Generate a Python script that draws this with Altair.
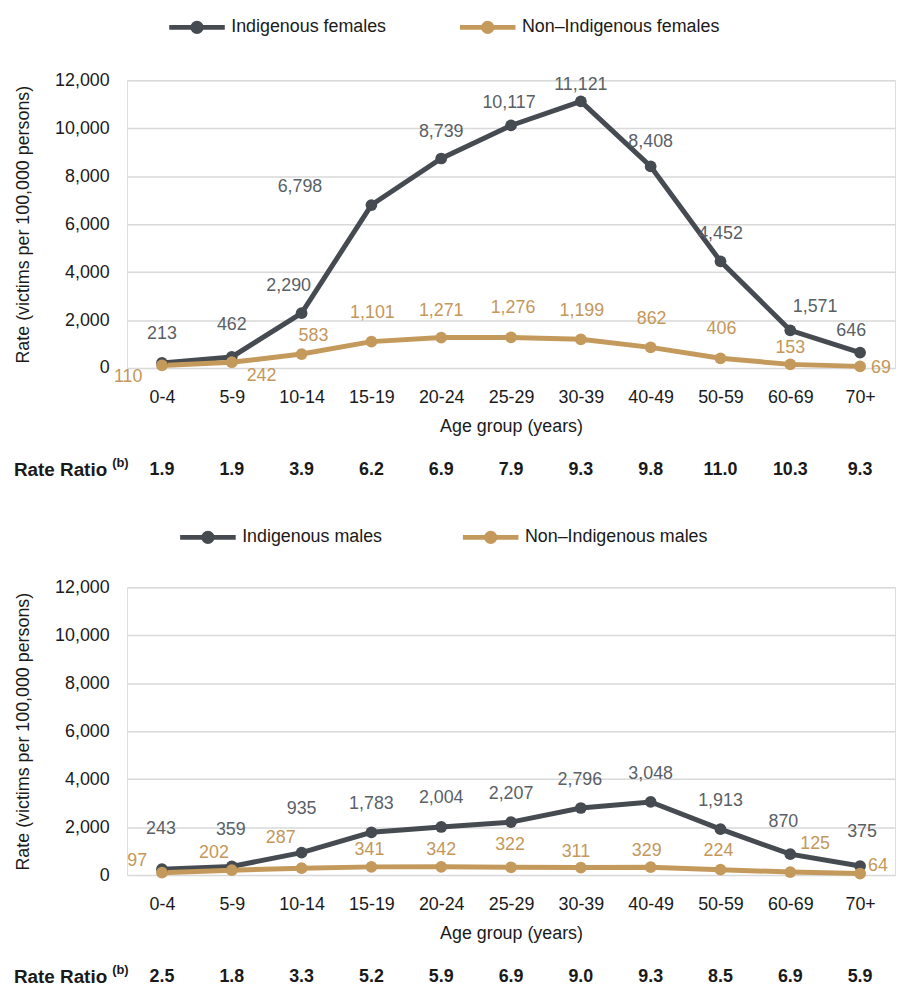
import altair as alt
import pandas as pd

# ---------------- data ----------------
categories = ["0-4", "5-9", "10-14", "15-19", "20-24", "25-29", "30-39", "40-49", "50-59", "60-69", "70+"]

ind_female = [213, 462, 2290, 6798, 8739, 10117, 11121, 8408, 4452, 1571, 646]
non_female = [110, 242, 583, 1101, 1271, 1276, 1199, 862, 406, 153, 69]
ratio_female = ["1.9", "1.9", "3.9", "6.2", "6.9", "7.9", "9.3", "9.8", "11.0", "10.3", "9.3"]

ind_male = [243, 359, 935, 1783, 2004, 2207, 2796, 3048, 1913, 870, 375]
non_male = [97, 202, 287, 341, 342, 322, 311, 329, 224, 125, 64]
ratio_male = ["2.5", "1.8", "3.3", "5.2", "5.9", "6.9", "9.0", "9.3", "8.5", "6.9", "5.9"]

series_female = ["Indigenous females", "Non\u2013Indigenous females"]
series_male = ["Indigenous males", "Non\u2013Indigenous males"]

# ---------------- label placement (pixel offsets, style only) ----------------
off_ind_female = [(0, -29), (0, -32), (-13, -27), (-72, -18), (0, -27), (-2, -23), (0, -16),
                  (0, -25), (0, -27), (25, -24), (-9, -22)]
off_non_female = [(-34, 12), (30, 14), (12, -18), (1, -29), (0, -27), (2, -30), (1, -28),
                  (1, -29), (1, -29), (0, -16), (21, 2)]
off_ind_male = [(-1, -40), (-1, -37), (0, -44), (0, -28), (0, -29), (0, -28), (-1, -28),
                (0, -28), (0, -28), (-7, -32), (2, -34)]
off_non_male = [(-25, -12), (-18, -17), (-21, -30), (-2, -17), (0, -17), (-1, -22), (-5, -16),
                (-4, -16), (-2, -19), (25, -28), (18, -8)]

FONT = "Liberation Sans"
DARK = "#464b52"
TAN = "#c49a5c"
DARK_LBL = "#5a5f66"
TAN_LBL = "#c4975a"
TXT = "#1a1a1a"

W, H = 774, 290
RATIO_Y = 393

# line with a dot, drawn in symbol units (1 unit = 7 px for size 196)
LEGEND_SYMBOL = "M-4,0H4M-0.6,0a0.6,0.6 0 1,0 1.2,0a0.6,0.6 0 1,0 -1.2,0"


def build_df(ind, non, names, off_i, off_n):
    rows = []
    for c, v, (dx, dy) in zip(categories, ind, off_i):
        rows.append(dict(cat=c, series=names[0], value=v, label=f"{v:,}", dx=dx, dy=dy))
    for c, v, (dx, dy) in zip(categories, non, off_n):
        rows.append(dict(cat=c, series=names[1], value=v, label=f"{v:,}", dx=dx, dy=dy))
    return pd.DataFrame(rows)


def panel(ind, non, ratios, names, off_i, off_n, leg_x, leg_y, col_pad):
    df = build_df(ind, non, names, off_i, off_n)
    x = alt.X("cat:N", sort=categories, scale=alt.Scale(padding=0.5),
              axis=alt.Axis(title="Age group (years)", labelAngle=0, ticks=False, domain=False,
                            labelPadding=21, titlePadding=11, labelFontSize=18, titleFontSize=18,
                            titleFontWeight="normal", labelColor=TXT, titleColor=TXT,
                            labelFont=FONT, titleFont=FONT))
    y = alt.Y("value:Q", scale=alt.Scale(domain=[0, 12000]),
              axis=alt.Axis(title="Rate (victims per 100,000 persons)",
                            values=list(range(0, 12001, 2000)), format=",.0f",
                            ticks=False, domain=False, grid=True, gridColor="#d9d9d9", gridWidth=1.5,
                            labelPadding=18, titlePadding=22, labelFontSize=18, titleFontSize=18,
                            titleFontWeight="normal", labelColor=TXT, titleColor=TXT,
                            labelFont=FONT, titleFont=FONT))
    color_scale = alt.Scale(domain=names, range=[DARK, TAN])
    legend = alt.Legend(orient="none", legendX=leg_x, legendY=leg_y, direction="horizontal", title=None,
                        symbolType=LEGEND_SYMBOL, symbolSize=196, symbolStrokeWidth=5,
                        labelFontSize=18, labelFont=FONT, labelColor=TXT, labelOffset=25,
                        labelLimit=400, columnPadding=col_pad, symbolOpacity=1)
    color = alt.Color("series:N", scale=color_scale, legend=legend)

    base = alt.Chart(df).encode(x=x, y=y)
    line = base.mark_line(strokeWidth=5).encode(color=color)
    pts = base.mark_circle(size=140, opacity=1).encode(color=color)
    lbl = base.mark_text(fontSize=18, font=FONT, dx=alt.expr("datum.dx"),
                         dy=alt.expr("datum.dy")).encode(
        text="label:N",
        color=alt.condition(alt.datum.series == names[0], alt.value(DARK_LBL), alt.value(TAN_LBL)))

    rdf = pd.DataFrame({"cat": categories, "ratio": ratios})
    rr = alt.Chart(rdf).mark_text(fontSize=18, fontWeight="bold", font=FONT, color=TXT).encode(
        x=x, y=alt.value(RATIO_Y), text="ratio:N")
    rr_title = alt.Chart(pd.DataFrame({"t": ["Rate Ratio"]})).mark_text(
        fontSize=19, fontWeight="bold", font=FONT, color=TXT, align="left").encode(
        x=alt.value(-114), y=alt.value(RATIO_Y), text="t:N")
    sup = alt.Chart(pd.DataFrame({"t": ["(b)"]})).mark_text(
        fontSize=13, fontWeight="bold", font=FONT, color=TXT, align="left").encode(
        x=alt.value(-15), y=alt.value(RATIO_Y - 7), text="t:N")

    return alt.layer(line, pts, lbl, rr, rr_title, sup).properties(width=W, height=H)


top = panel(ind_female, non_female, ratio_female, series_female, off_ind_female, off_non_female,
            61, -63, 63)
bottom = panel(ind_male, non_male, ratio_male, series_male, off_ind_male, off_non_male,
               72, -60, 70)

chart = alt.vconcat(top, bottom, spacing=221, bounds="flush").resolve_scale(
    color="independent").properties(
    padding={"left": 5, "top": 5, "right": 0, "bottom": 0}
).configure_view(stroke=None).configure(font=FONT)

chart.save("out.html", embed_options={"renderer": "svg", "actions": False})
